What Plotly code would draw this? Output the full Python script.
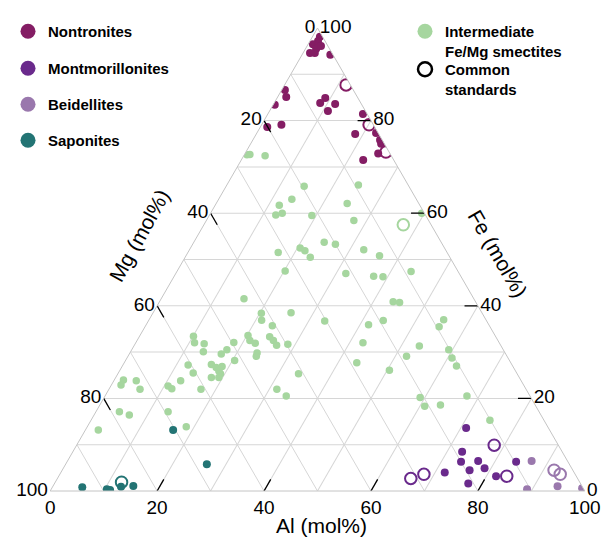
import plotly.graph_objects as go

# Compositions in mol%: Fe (top apex), Al (bottom right); Mg = 100 - Fe - Al (bottom left)
non_fe = [98.1, 97.2, 96.5, 96.1, 95.5, 94.6, 94.6, 94.2, 96.1, 86.6, 85.1, 83.4, 84.9, 83.8, 83.6,
          82.1, 81.4, 78.6, 79.1, 77.1, 77.3, 75.8, 75.0, 72.9, 71.5]
non_al = [1.4, 1.5, 0.9, 2.0, 2.0, 1.3, 2.2, 5.3, 2.6, 0.6, 1.6, 0.3, 9.0, 8.6, 11.5,
          10.9, 17.8, 1.3, 3.7, 18.5, 22.3, 23.8, 24.4, 24.9, 22.8]

int_fe = [72.6, 72.7, 72.4, 65.8, 66.1, 63.0, 61.7, 59.6, 60.0, 59.5, 62.1, 58.4, 60.0, 53.7, 53.3,
          52.5, 51.9, 50.5, 51.5, 52.1, 50.8, 47.5, 47.0, 46.4, 46.3, 47.4, 41.5, 40.9, 40.7, 38.4,
          36.9, 35.7, 38.5, 36.7, 35.9, 36.8, 35.5, 37.0, 33.4, 32.0, 31.8, 30.1, 29.6, 30.5, 32.1,
          33.6, 32.5, 31.9, 33.3, 32.5, 31.5, 31.7, 29.8, 29.1, 28.2, 32.0, 29.1, 30.5, 31.3, 27.2,
          25.5, 27.3, 26.7, 25.9, 26.9, 25.3, 24.5, 24.5, 23.8, 22.7, 22.1, 22.0, 25.3, 22.0, 20.5,
          27.7, 26.1, 20.2, 18.3, 18.6, 20.5, 15.3, 24.0, 22.9, 23.8, 22.0, 17.1, 16.4, 13.2, 17.1,
          13.9, 28.7, 27.0]
int_al = [0.5, 1.0, 4.0, 14.6, 24.6, 13.7, 12.0, 12.4, 13.4, 19.2, 24.5, 27.6, 39.5, 24.4, 26.7,
          20.5, 21.7, 23.4, 16.9, 32.6, 36.2, 20.2, 31.8, 37.3, 39.1, 43.8, 15.5, 43.7, 45.0, 20.3,
          21.1, 23.7, 25.8, 33.0, 41.6, 43.9, 55.0, 55.1, 10.1, 11.0, 12.9, 13.6, 17.2, 17.8, 18.3,
          20.2, 21.1, 22.4, 24.4, 25.5, 26.6, 28.6, 23.8, 24.0, 20.4, 42.5, 52.1, 59.3, 53.4, 12.2,
          14.0, 16.5, 17.7, 18.6, 18.7, 19.2, 17.9, 19.3, 12.5, 10.7, 11.7, 17.2, 33.8, 31.4, 33.9,
          43.5, 50.4, 59.1, 60.9, 63.7, 67.7, 74.6, 1.7, 1.8, 4.2, 5.8, 4.4, 6.6, 2.4, 13.5,
          18.5, 60.8, 62.5]

sap_fe = [13.2, 5.8, 0.8, 0.4, 0.2, 1.1, 0.9]
sap_al = [16.4, 26.4, 5.6, 10.4, 11.1, 15.0, 12.8]

mon_fe = [13.6, 8.5, 6.3, 4.5, 6.5, 4.9, 1.6, 4.0, 3.2, 6.3]
mon_al = [71.0, 72.8, 73.7, 76.2, 76.8, 78.8, 77.4, 71.8, 81.8, 84.0]

bei_fe = [6.5, 0.4, 1.0, 0.6]
bei_al = [86.8, 89.0, 94.4, 99.2]

std_fe = [87.7, 79.1, 73.2, 57.5, 1.9, 2.7, 3.6, 9.9, 3.2, 4.5, 3.6]
std_al = [11.5, 20.1, 26.2, 37.3, 12.4, 66.1, 68.1, 78.1, 83.8, 92.0, 93.6]
std_group = ["Nontronites", "Nontronites", "Nontronites", "Intermediate", "Saponites",
             "Montmorillonites", "Montmorillonites", "Montmorillonites", "Montmorillonites",
             "Beidellites", "Beidellites"]

tick_vals = [0, 10, 20, 30, 40, 50, 60, 70, 80, 90, 100]
major_ticks = [20, 40, 60, 80]

COL = {
    "Nontronites": "#841d64",
    "Montmorillonites": "#6a2a8c",
    "Beidellites": "#9a78ad",
    "Saponites": "#237474",
    "Intermediate": "#a6d69f",
}
FONT = "Liberation Sans, Arial, Helvetica, sans-serif"

# page offset of the figure inside the browser window (body margin)
OFF = 8
W, H = 611 - OFF, 538 - OFF


def X(px):
    return (px - OFF) / W


def Y(py):
    return 1 - (py - OFF) / H


def mg(fe, al):
    return [100 - f - a for f, a in zip(fe, al)]


fig = go.Figure()


def add_group(fe, al, color, size=8):
    fig.add_trace(go.Scatterternary(
        a=fe, b=mg(fe, al), c=al, mode="markers", showlegend=False,
        marker=dict(size=size, color=color, line=dict(width=0)),
        hoverinfo="a+b+c"))


add_group(int_fe, int_al, COL["Intermediate"], 7.5)
add_group(non_fe, non_al, COL["Nontronites"])
add_group(sap_fe, sap_al, COL["Saponites"])
add_group(mon_fe, mon_al, COL["Montmorillonites"])
add_group(bei_fe, bei_al, COL["Beidellites"])

fig.add_trace(go.Scatterternary(
    a=std_fe, b=mg(std_fe, std_al), c=std_al, mode="markers", showlegend=False,
    marker=dict(size=11.5, symbol="circle-open", color=[COL[g] for g in std_group],
                line=dict(width=2)),
    hoverinfo="a+b+c"))

# inward tick marks (along the line of constant value of each labelled component)
L = 2.5
ta, tb, tc = [], [], []
for v in major_ticks:
    ta += [100 - v, 100 - v - L, None]; tb += [v, v, None]; tc += [0, L, None]      # Mg (left)
    ta += [0, L, None]; tb += [100 - v, 100 - v - L, None]; tc += [v, v, None]      # Al (bottom)
    ta += [v, v, None]; tb += [0, L, None]; tc += [100 - v, 100 - v - L, None]      # Fe (right)
fig.add_trace(go.Scatterternary(a=ta, b=tb, c=tc, mode="lines", showlegend=False,
                                line=dict(color="black", width=1.3), hoverinfo="skip",
                                connectgaps=False))

# legend entries, each in its own legend box for exact placement
legend_items = [
    ("Nontronites", "legend", dict(size=15, color=COL["Nontronites"])),
    ("Montmorillonites", "legend2", dict(size=15, color=COL["Montmorillonites"])),
    ("Beidellites", "legend3", dict(size=15, color=COL["Beidellites"])),
    ("Saponites", "legend4", dict(size=15, color=COL["Saponites"])),
    ("Intermediate<br>Fe/Mg smectites", "legend5", dict(size=15, color=COL["Intermediate"])),
    ("Common<br>standards", "legend6", dict(size=14, symbol="circle-open", color="black",
                                              line=dict(width=2.5))),
]
for name, lg, mk in legend_items:
    fig.add_trace(go.Scatterternary(a=[None], b=[None], c=[None], mode="markers", name=name,
                                    legend=lg, marker=mk))

legend_pos = {
    "legend": (28, 31), "legend2": (28, 68), "legend3": (28, 104), "legend4": (28, 140),
    "legend5": (425, 31), "legend6": (425, 69),
}
legend_layout = {}
for lg, (mx, my) in legend_pos.items():
    legend_layout[lg] = dict(
        x=X(mx - 20), y=Y(my - 16), xanchor="left", yanchor="top",
        font=dict(size=15, family=FONT, color="black", weight="bold"),
        itemsizing="trace", valign="top", bgcolor="rgba(0,0,0,0)", borderwidth=0)


def axis(texts):
    return dict(tickmode="array", tickvals=tick_vals, ticktext=texts, ticks="",
                showline=True, linecolor="#c4c4c4", linewidth=1,
                showgrid=True, gridcolor="#d6d6d6", gridwidth=1,
                tickfont=dict(size=19, color="black", family=FONT), title=dict(text=""))


lab = [str(100 - v) if v % 20 == 0 else "" for v in tick_vals]

title_font = dict(size=21, family=FONT, color="black")
fig.update_layout(
    width=W, height=H, margin=dict(l=0, r=0, t=0, b=0),
    paper_bgcolor="white", plot_bgcolor="white",
    font=dict(family=FONT, color="black"),
    ternary=dict(
        sum=100, bgcolor="white",
        domain=dict(x=[X(50), X(585)], y=[Y(491), Y(28)]),
        aaxis=axis(lab), baxis=axis(lab), caxis=axis(lab),
    ),
    annotations=[
        dict(text="Al (mol%)", x=X(321), y=Y(525), xref="paper", yref="paper",
             xanchor="center", yanchor="middle", showarrow=False, font=title_font),
        dict(text="Mg (mol%)", x=X(139), y=Y(235), xref="paper", yref="paper",
             xanchor="center", yanchor="middle", showarrow=False, textangle=-61,
             font=title_font),
        dict(text="Fe (mol%)", x=X(498), y=Y(253), xref="paper", yref="paper",
             xanchor="center", yanchor="middle", showarrow=False, textangle=60,
             font=title_font),
    ],
    **legend_layout,
)

fig.write_html("out.html")
